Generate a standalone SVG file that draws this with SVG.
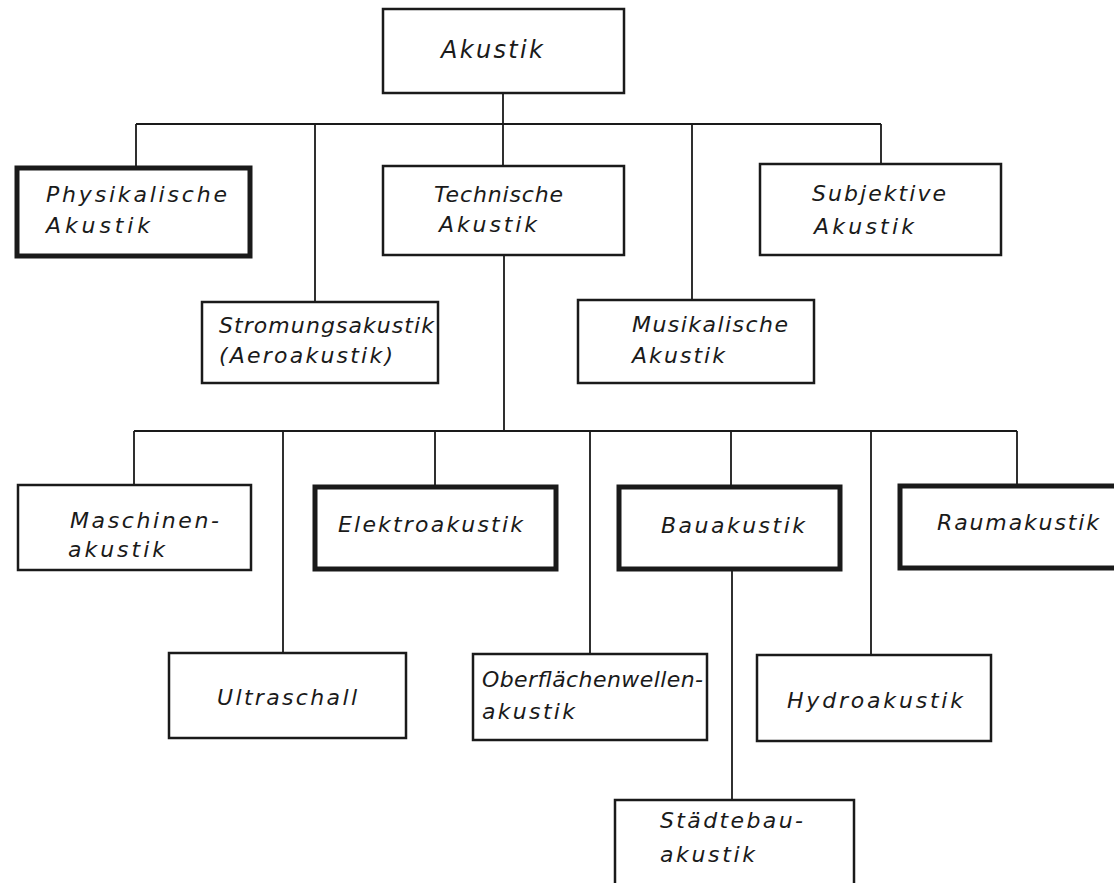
<svg xmlns="http://www.w3.org/2000/svg" width="1114" height="883" viewBox="0 0 1114 883">
<style>
  .box { fill: #fff; stroke: #1a1a1a; stroke-width: 2.5; }
  .thick { fill: #fff; stroke: #1a1a1a; stroke-width: 5; }
  .conn { fill: none; stroke: #1a1a1a; stroke-width: 1.8; }
  text { font-family: "DejaVu Sans", "Liberation Sans", sans-serif; font-style: italic; font-size: 22px; fill: #1a1a1a; }
  .big { font-size: 24px; }
</style>
<rect x="0" y="0" width="1114" height="883" fill="#fff"/>
<g id="connectors">
  <path class="conn" d="M503,93 V124 M136,124 H881 M136,124 V167 M315,124 V302 M503,124 V166 M692,124 V300 M881,124 V164"/>
  <path class="conn" d="M504,255 V431 M134,431 H1017 M134,431 V485 M283,431 V653 M435,431 V486 M590,431 V654 M731,431 V486 M871,431 V655 M1017,431 V485"/>
  <path class="conn" d="M732,570 V800"/>
</g>
<g id="akustik">
  <rect class="box" x="383" y="9" width="241" height="84"/>
  <text class="big" x="441" y="58" textLength="102" lengthAdjust="spacing">Akustik</text>
</g>
<g id="physikalische">
  <rect class="thick" x="17" y="168" width="233" height="88"/>
  <text x="46" y="202" textLength="181" lengthAdjust="spacing">Physikalische</text>
  <text x="46" y="233" textLength="104" lengthAdjust="spacing">Akustik</text>
</g>
<g id="technische">
  <rect class="box" x="383" y="166" width="241" height="89"/>
  <text x="434" y="202" textLength="129" lengthAdjust="spacing">Technische</text>
  <text x="439" y="232" textLength="98" lengthAdjust="spacing">Akustik</text>
</g>
<g id="subjektive">
  <rect class="box" x="760" y="164" width="241" height="91"/>
  <text x="812" y="201" textLength="134" lengthAdjust="spacing">Subjektive</text>
  <text x="814" y="234" textLength="100" lengthAdjust="spacing">Akustik</text>
</g>
<g id="stromungsakustik">
  <rect class="box" x="202" y="302" width="236" height="81"/>
  <text x="219" y="333" textLength="215" lengthAdjust="spacing">Stromungsakustik</text>
  <text x="219" y="363" textLength="174" lengthAdjust="spacing">(Aeroakustik)</text>
</g>
<g id="musikalische">
  <rect class="box" x="578" y="300" width="236" height="83"/>
  <text x="632" y="332" textLength="156" lengthAdjust="spacing">Musikalische</text>
  <text x="632" y="363" textLength="93" lengthAdjust="spacing">Akustik</text>
</g>
<g id="maschinenakustik">
  <rect class="box" x="18" y="485" width="233" height="85"/>
  <text x="70" y="528" textLength="149" lengthAdjust="spacing">Maschinen-</text>
  <text x="68" y="557" textLength="97" lengthAdjust="spacing">akustik</text>
</g>
<g id="elektroakustik">
  <rect class="thick" x="315" y="487" width="241" height="82"/>
  <text x="338" y="532" textLength="185" lengthAdjust="spacing">Elektroakustik</text>
</g>
<g id="bauakustik">
  <rect class="thick" x="619" y="487" width="221" height="82"/>
  <text x="661" y="533" textLength="144" lengthAdjust="spacing">Bauakustik</text>
</g>
<g id="raumakustik">
  <rect class="thick" x="900" y="486" width="230" height="82"/>
  <text x="937" y="530" textLength="162" lengthAdjust="spacing">Raumakustik</text>
</g>
<g id="ultraschall">
  <rect class="box" x="169" y="653" width="237" height="85"/>
  <text x="217" y="705" textLength="140" lengthAdjust="spacing">Ultraschall</text>
</g>
<g id="oberflaechenwellenakustik">
  <rect class="box" x="473" y="654" width="234" height="86"/>
  <text x="482" y="687" textLength="221" lengthAdjust="spacing">Oberflächenwellen-</text>
  <text x="482" y="719" textLength="93" lengthAdjust="spacing">akustik</text>
</g>
<g id="hydroakustik">
  <rect class="box" x="757" y="655" width="234" height="86"/>
  <text x="787" y="708" textLength="176" lengthAdjust="spacing">Hydroakustik</text>
</g>
<g id="staedtebauakustik">
  <rect class="box" x="615" y="800" width="239" height="100"/>
  <text x="660" y="828" textLength="143" lengthAdjust="spacing">Städtebau-</text>
  <text x="660" y="862" textLength="95" lengthAdjust="spacing">akustik</text>
</g>
</svg>
